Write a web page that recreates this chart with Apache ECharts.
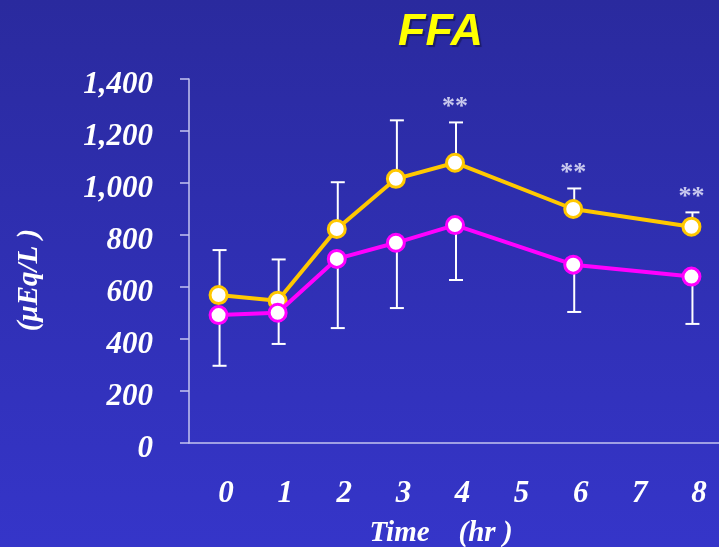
<!DOCTYPE html>
<html>
<head>
<meta charset="utf-8">
<script src="https://cdn.jsdelivr.net/npm/echarts@6/dist/echarts.min.js"></script>
<style>html,body{margin:0;padding:0;background:#2e2eb0;}#c{width:719px;height:547px;}</style>
</head>
<body>
<div id="c"></div>
<script>
// ---- data ----
const hours = [0, 1, 2, 3, 4, 6, 8];
const yellowMean = [569, 547, 823, 1016, 1078, 900, 832];
const yellowUpper = [742, 706, 1003, 1241, 1233, 979, 887];
const magentaMean = [492, 501, 708, 770, 838, 686, 640];
const magentaLower = [297, 381, 442, 519, 627, 504, 458];
const sigHours = [4, 6, 8];
const sigMark = '**';
const xTickValues = [0, 1, 2, 3, 4, 5, 6, 7, 8];
const titleText = 'FFA';
const xName = 'Time    (hr )';
const yName = '(\u03bcEq/L )';

const serif = '"Liberation Serif", "DejaVu Serif", serif';
const chart = echarts.init(document.getElementById('c'), null, {renderer: 'canvas'});

function errBar(params, api) {
  const x = api.value(0), from = api.value(1), to = api.value(2);
  const p0 = api.coord([x, from]);
  const p1 = api.coord([x, to]);
  const dx = 1, w = 7;
  const st = {stroke: '#ffffff', lineWidth: 2};
  return {
    type: 'group',
    children: [
      {type: 'line', shape: {x1: p0[0] + dx, y1: p0[1], x2: p1[0] + dx, y2: p1[1]}, style: st},
      {type: 'line', shape: {x1: p1[0] + dx - w, y1: p1[1], x2: p1[0] + dx + w, y2: p1[1]}, style: st}
    ]
  };
}

const labelFont = {color: '#ffffff', fontSize: 31, fontWeight: 'bold', fontStyle: 'italic', fontFamily: serif};

chart.setOption({
  backgroundColor: {
    type: 'linear', x: 0, y: 0, x2: 0, y2: 1,
    colorStops: [{offset: 0, color: '#2a2a9e'}, {offset: 1, color: '#3535c9'}]
  },
  animation: false,
  title: {
    text: titleText, left: 393, top: 5,
    textStyle: {
      color: '#ffff00', fontSize: 45, fontWeight: 'bold', fontStyle: 'italic',
      fontFamily: '"Liberation Sans", Arial, sans-serif',
      textShadowColor: 'rgba(0,0,0,0.35)', textShadowOffsetX: 2, textShadowOffsetY: 2, textShadowBlur: 1
    }
  },
  grid: {left: 189, right: -2, top: 79, bottom: 104, containLabel: false, outerBoundsMode: 'none'},
  xAxis: {
    type: 'value', min: -0.5, max: 8.5,
    axisLine: {show: true, onZero: false, lineStyle: {color: '#c4c4f0', width: 1.5}},
    axisTick: {show: false},
    splitLine: {show: false},
    axisLabel: Object.assign({
      customValues: xTickValues, margin: 35, padding: [0, 0, 0, 15]
    }, labelFont),
    name: xName, nameLocation: 'middle', nameGap: 76,
    nameTextStyle: {
      color: '#ffffff', fontSize: 29, fontWeight: 'bold', fontStyle: 'italic', fontFamily: serif,
      padding: [0, 28, 0, 0]
    }
  },
  yAxis: {
    type: 'value', min: 0, max: 1400, interval: 200,
    axisLine: {show: true, onZero: false, lineStyle: {color: '#c4c4f0', width: 1.5}},
    axisTick: {show: true, length: 9, lineStyle: {color: '#c4c4f0', width: 1.5}},
    splitLine: {show: false},
    axisLabel: {
      margin: 36,
      formatter: v => '{a|' + v.toLocaleString('en-US') + '}',
      rich: {a: Object.assign({padding: [12, 0, 0, 0]}, labelFont)}
    },
    name: yName, nameLocation: 'middle', nameGap: 145, nameRotate: 90,
    nameTextStyle: {
      color: '#ffffff', fontSize: 29, fontWeight: 'bold', fontStyle: 'italic', fontFamily: serif,
      padding: [0, 38, 0, 0]
    }
  },
  series: [
    {
      type: 'custom', renderItem: errBar, z: 1, silent: true,
      data: hours.map((h, i) => [h, yellowMean[i], yellowUpper[i]])
    },
    {
      type: 'custom', renderItem: errBar, z: 1, silent: true,
      data: hours.map((h, i) => [h, magentaMean[i], magentaLower[i]])
    },
    {
      type: 'line', z: 3,
      data: hours.map((h, i) => [h, yellowMean[i]]),
      lineStyle: {color: '#ffc800', width: 4},
      symbol: 'circle', symbolSize: 17,
      itemStyle: {color: '#ffffff', borderColor: '#ffc800', borderWidth: 3}
    },
    {
      type: 'line', z: 4,
      data: hours.map((h, i) => [h, magentaMean[i]]),
      lineStyle: {color: '#ff00ff', width: 4},
      symbol: 'circle', symbolSize: 17,
      itemStyle: {color: '#ffffff', borderColor: '#ff00ff', borderWidth: 3}
    },
    {
      type: 'scatter', z: 5, symbolSize: 0, silent: true,
      data: sigHours.map(h => [h, yellowUpper[hours.indexOf(h)]]),
      label: {
        show: true, position: 'top', distance: 2, formatter: sigMark,
        color: '#f0f0ff', fontSize: 26, fontWeight: 'bold', fontFamily: serif
      }
    }
  ]
});
</script>
</body>
</html>
